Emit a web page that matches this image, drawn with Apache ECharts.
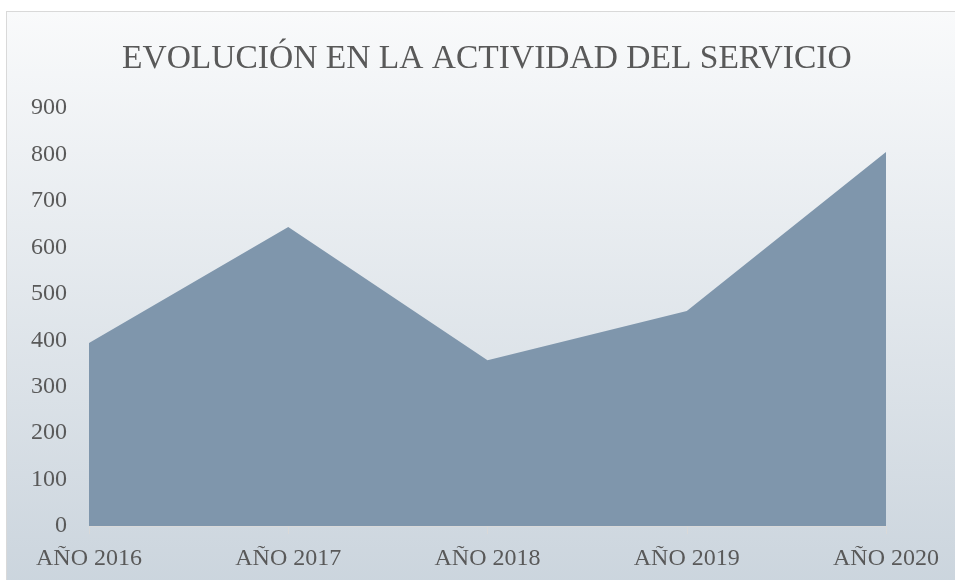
<!DOCTYPE html>
<html>
<head>
<meta charset="utf-8">
<script src="https://cdn.jsdelivr.net/npm/echarts@6/dist/echarts.min.js"></script>
<style>
  html, body { margin: 0; padding: 0; background: #ffffff; overflow: hidden; }
  #box { position: absolute; left: 6px; top: 11px; width: 1000px; height: 600px;
         border: 1px solid #d9d9d9;
         background: linear-gradient(to bottom, #f9fafb 0%, #c9d3dc 100%); }
  #chart { position: absolute; left: 0; top: 0; width: 955px; height: 580px; }
</style>
</head>
<body>
<div id="box"></div>
<div id="chart"></div>
<script>
const title = 'EVOLUCIÓN EN LA ACTIVIDAD DEL SERVICIO';
const categories = ['AÑO 2016', 'AÑO 2017', 'AÑO 2018', 'AÑO 2019', 'AÑO 2020'];
const values = [394, 644, 357, 463, 805];
const yMin = 0, yMax = 900, yStep = 100;

const FONT = '"Liberation Serif", "Times New Roman", serif';
const chart = echarts.init(document.getElementById('chart'), null, { renderer: 'canvas' });
chart.setOption({
  backgroundColor: 'transparent',
  animation: false,
  title: {
    text: title,
    left: 122,
    top: 42,
    padding: 0,
    textStyle: { fontFamily: FONT, fontSize: 33.5, fontWeight: 'normal', color: '#595959' }
  },
  grid: { left: 89, right: 69, top: 108, bottom: 54, containLabel: false },
  xAxis: {
    type: 'category',
    data: categories,
    boundaryGap: false,
    axisLine: { show: true, lineStyle: { color: '#d9d9d9', width: 1 } },
    axisTick: { show: true, length: 8, lineStyle: { color: '#d9d9d9' } },
    axisLabel: { fontFamily: FONT, fontSize: 24, color: '#595959', margin: 21 },
    splitLine: { show: false }
  },
  yAxis: {
    type: 'value',
    min: yMin, max: yMax, interval: yStep,
    axisLine: { show: false },
    axisTick: { show: false },
    splitLine: { show: false },
    axisLabel: { fontFamily: FONT, fontSize: 24, color: '#595959', margin: 22 }
  },
  series: [{
    type: 'line',
    data: values,
    symbol: 'none',
    lineStyle: { width: 0 },
    areaStyle: { color: '#7f96ac', opacity: 1 },
    z: 1
  }]
});
</script>
</body>
</html>
